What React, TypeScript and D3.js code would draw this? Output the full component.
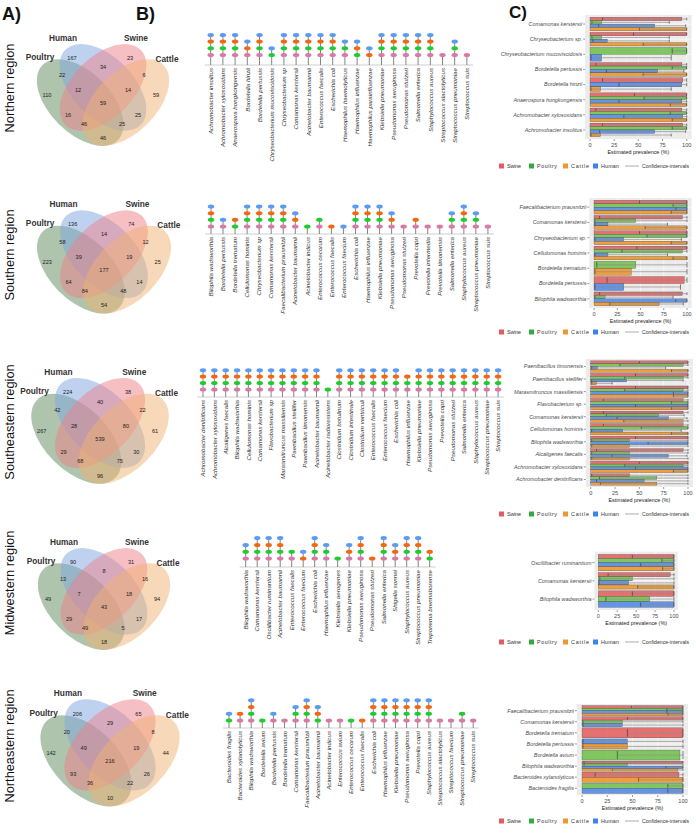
import React from "react";
import * as d3 from "d3";

const FONT = "'Liberation Sans', Arial, Helvetica, sans-serif";

// ---------------- Panel A data ----------------
const REGION_LABELS = ["Northern region", "Southern region", "Southeastern region", "Midwestern region", "Northeastern region"];
const SET_LABELS = ["Poultry", "Human", "Swine", "Cattle"];
const VENN_NORTH = [167, 23, 22, 34, 6, 110, 12, 14, 59, 59, 16, 25, 46, 25, 46];
const VENN_SOUTH = [136, 74, 58, 14, 12, 223, 39, 19, 25, 177, 64, 14, 84, 48, 54];
const VENN_SOUTHEAST = [224, 38, 42, 40, 22, 267, 28, 80, 61, 539, 29, 30, 68, 75, 96];
const VENN_MIDWEST = [90, 31, 13, 8, 16, 49, 7, 18, 94, 43, 29, 17, 49, 5, 18];
const VENN_NORTHEAST = [206, 65, 20, 29, 8, 142, 49, 19, 44, 216, 93, 26, 36, 22, 10];

// ---------------- Panel B data ----------------
// host codes: H = Human, C = Cattle, P = Poultry, S = Swine
const B_NORTH_SPECIES = ["Achromobacter insolitus", "Achromobacter xylosoxidans", "Anaerospora hongkongensis", "Bordetella hinzii", "Bordetella pertussis", "Chryseobacterium mucoviscidosis", "Chryseobacterium sp", "Comamonas kerstersii", "Acinetobacter baumannii", "Enterococcus faecalis", "Escherichia coli", "Haemophilus haemolyticus", "Haemophilus influenzae", "Haemophilus parainfluenzae", "Klebsiella pneumoniae", "Pseudomonas aeruginosa", "Pseudomonas stutzeri", "Salmonella enterica", "Staphylococcus aureus", "Streptococcus alactolyticus", "Streptococcus pneumoniae", "Streptococcus suis"];
const B_NORTH_HOSTS = ["HCPS", "HCPS", "HCPS", "HCS", "HCPS", "HP", "HCPS", "HCPS", "HCPS", "HCPS", "HCPS", "HPS", "HCP", "HC", "HCPS", "HCPS", "HCPS", "HCPS", "HCPS", "S", "HPS", "S"];

const B_SOUTH_SPECIES = ["Bilophila wadsworthia", "Bordetella pertussis", "Bordetella trematum", "Cellulomonas hominis", "Chryseobacterium sp", "Comamonas kerstersii", "Faecalibacterium prausnitzii", "Acinetobacter baumannii", "Acinetobacter indicus", "Enterococcus cecorum", "Enterococcus faecalis", "Enterococcus faecium", "Escherichia coli", "Haemophilus influenzae", "Klebsiella pneumoniae", "Pseudomonas aeruginosa", "Pseudomonas stutzeri", "Prevotella copri", "Prevotella intermedia", "Prevotella timonensis", "Salmonella enterica", "Staphylococcus aureus", "Streptococcus pneumoniae", "Streptococcus suis"];
const B_SOUTH_HOSTS = ["HCPS", "HS", "CP", "HCPS", "HCPS", "HCPS", "HCPS", "HCS", "P", "PS", "C", "H", "HCPS", "HCPS", "HCPS", "HCS", "S", "CS", "S", "S", "HPS", "HCPS", "HPS", "S"];

const B_SE_SPECIES = ["Achromobacter denitrificans", "Achromobacter xylosoxidans", "Alcaligenes faecalis", "Bilophila wadsworthia", "Cellulomonas hominis", "Comamonas kerstersii", "Flavobacterium sp", "Marasmitruncus massiliensis", "Paenibacillus stellifer", "Paenibacillus timonensis", "Acinetobacter baumannii", "Acinetobacter radioresistens", "Clostridium botulinum", "Clostridium intestinale", "Clostridium ventriculi", "Enterococcus faecalis", "Enterococcus faecium", "Escherichia coli", "Haemophilus influenzae", "Klebsiella pneumoniae", "Pseudomonas aeruginosa", "Prevotella copri", "Pseudomonas stutzeri", "Salmonella enterica", "Staphylococcus aureus", "Streptococcus pneumoniae", "Streptococcus suis"];
const B_SE_HOSTS = ["HCPS", "HCPS", "HCPS", "HCPS", "HCPS", "HCPS", "HCPS", "HCPS", "HCPS", "HCPS", "HCPS", "P", "HCPS", "HCPS", "HCPS", "HCPS", "HCPS", "HCPS", "CPS", "HCPS", "HCPS", "HCPS", "HCPS", "HCPS", "HCPS", "HCPS", "HCPS"];

const B_MW_SPECIES = ["Bilophila wadsworthia", "Comamonas kerstersii", "Oscillibacter ruminantium", "Acinetobacter baumannii", "Enterococcus faecalis", "Enterococcus faecium", "Escherichia coli", "Haemophilus influenzae", "Klebsiella aerogenes", "Klebsiella pneumoniae", "Pseudomonas aeruginosa", "Pseudomonas stutzeri", "Salmonella enterica", "Shigella sonnei", "Staphylococcus aureus", "Streptococcus pneumoniae", "Treponema brennaborense"];
const B_MW_HOSTS = ["HPS", "HCPS", "HCPS", "HCPS", "PS", "HC", "HCPS", "HPS", "P", "HCS", "HCPS", "C", "HCPS", "HCS", "HCPS", "HCPS", "CP"];

const B_NE_SPECIES = ["Bacteroides fragilis", "Bacteroides xylanolyticus", "Bilophila wadsworthia", "Bordetella avium", "Bordetella pertussis", "Bordetella trematum", "Comamonas kerstersii", "Faecalibacterium prausnitzii", "Acinetobacter baumannii", "Acinetobacter indicus", "Enterococcus avium", "Enterococcus cecorum", "Enterococcus faecalis", "Escherichia coli", "Haemophilus influenzae", "Klebsiella pneumoniae", "Pseudomonas aeruginosa", "Prevotella copri", "Staphylococcus aureus", "Streptococcus alactolyticus", "Streptococcus faecium", "Streptococcus pneumoniae", "Streptococcus suis"];
const B_NE_HOSTS = ["HP", "CS", "HCPS", "P", "HS", "S", "HPS", "HCPS", "HCP", "S", "S", "P", "C", "HCPS", "HCPS", "HCPS", "HCPS", "HCPS", "HCPS", "S", "S", "PS", "S"];

// ---------------- Panel C data ----------------
// each entry: [estimate, lower CI, upper CI] or null if absent
type T = [number, number, number] | null;
const C_NORTH_SPECIES = ["Comamonas kerstersii", "Chryseobacterium sp.", "Chryseobacterium mucoviscidosis", "Bordetella pertussis", "Bordetella hinzii", "Anaerospora hongkongensis", "Achromobacter xylosoxidans", "Achromobacter insolitus"];
const C_NORTH_SWINE: T[] = [[95, 13, 100], [100, 45, 100], null, [95, 6, 100], [96, 13, 100], [100, 46, 100], [95, 6, 100], [96, 13, 100]];
const C_NORTH_POULTRY: T[] = [[12, 2, 82], [12, 2, 82], [100, 85, 100], [100, 85, 100], null, [100, 56, 100], [100, 83, 100], [100, 85, 100]];
const C_NORTH_HUMAN: T[] = [[67, 9, 99], [18, 3, 82], [12, 1, 84], [70, 17, 97], [95, 30, 100], [95, 30, 100], [96, 35, 100], [67, 10, 99]];
const C_NORTH_CATTLE: T[] = [[100, 51, 100], [100, 55, 100], null, [100, 55, 100], [11, 1, 84], [100, 83, 100], [100, 85, 100], [11, 1, 84]];

const C_SOUTH_SPECIES = ["Faecalibacterium prausnitzii", "Comamonas kerstersii", "Chryseobacterium sp.", "Cellulomonas hominis", "Bordetella trematum", "Bordetella pertussis", "Bilophila wadsworthia"];
const C_SOUTH_SWINE: T[] = [[100, 49, 100], [95, 6, 100], [100, 49, 100], [100, 46, 100], null, [97, 14, 100], [95, 6, 100]];
const C_SOUTH_POULTRY: T[] = [[100, 85, 100], [45, 1, 100], [100, 57, 100], [95, 30, 100], [45, 3, 100], null, [12, 1, 85]];
const C_SOUTH_HUMAN: T[] = [[100, 88, 100], [15, 1, 79], [32, 1, 94], [15, 1, 79], null, [32, 1, 93], [100, 88, 100]];
const C_SOUTH_CATTLE: T[] = [[100, 83, 100], [100, 55, 100], [100, 83, 100], [100, 85, 100], [40, 1, 100], null, [70, 17, 96]];

const C_SE_SPECIES = ["Paenibacillus timonensis", "Paenibacillus stellifer", "Marasmitruncus massiliensis", "Flavobacterium sp.", "Comamonas kerstersii", "Cellulomonas hominis", "Bilophila wadsworthia", "Alcaligenes faecalis", "Achromobacter xylosoxidans", "Achromobacter denitrificans"];
const C_SE_SWINE: T[] = [[100, 50, 100], [100, 46, 100], [100, 46, 100], [95, 13, 100], [95, 13, 100], [95, 13, 100], [100, 46, 100], [95, 6, 100], [100, 50, 100], [40, 1, 100]];
const C_SE_POULTRY: T[] = [[95, 30, 100], [95, 35, 100], [95, 35, 100], [100, 83, 100], [70, 16, 96], [100, 52, 100], [40, 1, 100], [40, 1, 100], [95, 35, 100], [68, 9, 100]];
const C_SE_HUMAN: T[] = [[7, 1, 77], [37, 1, 95], [100, 85, 100], [100, 46, 100], [80, 27, 99], [33, 1, 93], [100, 59, 100], [80, 22, 99], [100, 46, 100], [55, 6, 100]];
const C_SE_CATTLE: T[] = [[100, 83, 100], [6, 1, 22], [100, 85, 100], [100, 83, 100], [95, 34, 100], [100, 83, 100], [40, 1, 100], [40, 1, 100], [100, 85, 100], [68, 10, 100]];

const C_MW_SPECIES = ["Oscillibacter ruminantium", "Comamonas kerstersii", "Bilophila wadsworthia"];
const C_MW_SWINE: T[] = [[100, 45, 100], [95, 13, 100], [100, 45, 100]];
const C_MW_POULTRY: T[] = [[100, 84, 100], [45, 2, 100], [68, 10, 100]];
const C_MW_HUMAN: T[] = [[100, 56, 100], [40, 1, 100], [100, 56, 100]];
const C_MW_CATTLE: T[] = [[100, 85, 100], [100, 52, 100], null];

const C_NE_SPECIES = ["Faecalibacterium prausnitzii", "Comamonas kerstersii", "Bordetella trematum", "Bordetella pertussis", "Bordetella avium", "Bilophila wadsworthia", "Bacteroides xylanolyticus", "Bacteroides fragilis"];
const C_NE_SWINE: T[] = [[100, 49, 100], [100, 45, 100], [100, 45, 100], null, null, [100, 2, 100], [96, 13, 100], null];
const C_NE_POULTRY: T[] = [[100, 84, 100], [40, 1, 100], null, null, [97, 35, 100], [45, 2, 100], null, [100, 85, 100]];
const C_NE_HUMAN: T[] = [[100, 84, 100], [40, 1, 100], null, [45, 1, 100], null, [100, 83, 100], null, [100, 85, 100]];
const C_NE_CATTLE: T[] = [[100, 85, 100], null, null, [45, 1, 100], null, [95, 30, 100], [100, 56, 100], null];

const TICKS = [0, 25, 50, 75, 100];
const LEGEND_LABELS = ["Swine", "Poultry", "Cattle", "Human"];

// ---------------- styling / layout ----------------
const VENN_FILL = ["#5f8a5c", "#7ea6e0", "#ee7f8a", "#efb271"];
const DOT = { H: "#5b9cf2", C: "#f2670f", P: "#1fcc2e", S: "#d77aa6" } as Record<string, string>;
const BAR = { Swine: "#e35b5b", Poultry: "#6cc048", Human: "#4a86e8", Cattle: "#f0901e" } as Record<string, string>;
const LEG = { Swine: "#e65a64", Poultry: "#33aa46", Cattle: "#f09632", Human: "#3c82f0" } as Record<string, string>;

const VENN_POS: [number, number][] = [[-31, -40], [27, -40], [-41, -23], [0, -31], [41, -23], [-56, -3], [-25, -8], [25, -8], [53, -3], [0, 5], [-35, 17], [35, 17], [-19, 26], [19, 26], [0, 40]];
const SET_POS: [number, number][] = [[-63, -41], [-40, -60], [33, -60], [64, -39]];

const VENN_LAYOUT = [
  { cx: 103, cy: 98, s: 152, counts: VENN_NORTH },
  { cx: 104, cy: 265, s: 154, counts: VENN_SOUTH },
  { cx: 100, cy: 434, s: 158, counts: VENN_SOUTHEAST },
  { cx: 104, cy: 602, s: 152, counts: VENN_MIDWEST },
  { cx: 110, cy: 756, s: 160, counts: VENN_NORTHEAST },
];
const REGION_LABEL_Y = [88, 255, 422, 583, 746];

const B_ROWS = [
  { species: B_NORTH_SPECIES, hosts: B_NORTH_HOSTS, x0: 210.7, dx: 12.2, base: 65, gap: 10, step: 6.7 },
  { species: B_SOUTH_SPECIES, hosts: B_SOUTH_HOSTS, x0: 211, dx: 12.04, base: 234, gap: 7.6, step: 6.6 },
  { species: B_SE_SPECIES, hosts: B_SE_HOSTS, x0: 203, dx: 11.35, base: 397, gap: 7.6, step: 6.4 },
  { species: B_MW_SPECIES, hosts: B_MW_HOSTS, x0: 245.7, dx: 11.5, base: 567, gap: 8.5, step: 6.8 },
  { species: B_NE_SPECIES, hosts: B_NE_HOSTS, x0: 229, dx: 11.1, base: 728, gap: 7.6, step: 6.7 },
];

const C_ROWS = [
  { species: C_NORTH_SPECIES, data: [C_NORTH_SWINE, C_NORTH_POULTRY, C_NORTH_HUMAN, C_NORTH_CATTLE], x0: 590, x100: 686.7, top: 15, bottom: 139, legendY: 166 },
  { species: C_SOUTH_SPECIES, data: [C_SOUTH_SWINE, C_SOUTH_POULTRY, C_SOUTH_HUMAN, C_SOUTH_CATTLE], x0: 594, x100: 687, top: 198, bottom: 308, legendY: 332 },
  { species: C_SE_SPECIES, data: [C_SE_SWINE, C_SE_POULTRY, C_SE_HUMAN, C_SE_CATTLE], x0: 590.7, x100: 688, top: 359, bottom: 487, legendY: 514 },
  { species: C_MW_SPECIES, data: [C_MW_SWINE, C_MW_POULTRY, C_MW_HUMAN, C_MW_CATTLE], x0: 598.3, x100: 674, top: 551.7, bottom: 610, legendY: 642 },
  { species: C_NE_SPECIES, data: [C_NE_SWINE, C_NE_POULTRY, C_NE_HUMAN, C_NE_CATTLE], x0: 582, x100: 683, top: 704, bottom: 795, legendY: 821 },
];
const C_CATS = ["Swine", "Poultry", "Human", "Cattle"];

function Venn({ cx, cy, s, counts }: { cx: number; cy: number; s: number; counts: number[] }) {
  const k = s / 152;
  const a = 0.35 * s, b = 0.2 * s;
  const ells = [
    { x: cx - 0.15 * s, y: cy + 0.03 * s, r: 45 },
    { x: cx, y: cy - 0.07 * s, r: 45 },
    { x: cx, y: cy - 0.07 * s, r: -45 },
    { x: cx + 0.15 * s, y: cy + 0.03 * s, r: -45 },
  ];
  return (
    <g>
      {ells.map((e, i) => (
        <ellipse key={i} cx={e.x} cy={e.y} rx={a} ry={b} transform={`rotate(${e.r} ${e.x} ${e.y})`} fill={VENN_FILL[i]} fillOpacity={0.5} stroke="none" />
      ))}
      {counts.map((c, i) => (
        <text key={i} x={cx + VENN_POS[i][0] * k} y={cy + VENN_POS[i][1] * k} dy="0.35em" textAnchor="middle" fontSize={5.6} fill="#222" fontFamily={FONT}>{c}</text>
      ))}
      {SET_LABELS.map((l, i) => (
        <text key={l} x={cx + SET_POS[i][0] * k} y={cy + SET_POS[i][1] * k} dy="0.35em" textAnchor="middle" fontSize={8.3} fontWeight="bold" fill="#333" fontFamily={FONT}>{l}</text>
      ))}
    </g>
  );
}

const STACK_ORDER = ["S", "P", "C", "H"];

function DotRow({ species, hosts, x0, dx, base, gap, step }: any) {
  const x = d3.scaleLinear().domain([0, species.length - 1]).range([x0, x0 + dx * (species.length - 1)]);
  const bottomDot = base - gap;
  return (
    <g>
      <line x1={x0 - 6} x2={x(species.length - 1) + 6} y1={base} y2={base} stroke="#cfcfcf" strokeWidth={1} />
      {species.map((sp: string, i: number) => {
        const present = STACK_ORDER.filter((c) => hosts[i].includes(c));
        const topY = bottomDot - (present.length - 1) * step;
        return (
          <g key={i}>
            <line x1={x(i)} x2={x(i)} y1={base} y2={topY} stroke="#777" strokeWidth={0.9} />
            {present.map((c, j) => (
              <ellipse key={c} cx={x(i)} cy={bottomDot - j * step} rx={3.2} ry={2} fill={DOT[c]} />
            ))}
            <text transform={`translate(${x(i) + 2.2},${base + 3}) rotate(-90)`} textAnchor="end" fontSize={6.2} fontStyle="italic" fill="#333" fontFamily={FONT}>{sp}</text>
          </g>
        );
      })}
    </g>
  );
}

function PrevPanel({ species, data, x0, x100, top, bottom, legendY }: any) {
  const x = d3.scaleLinear().domain([0, 100]).range([x0, x100]);
  const left = x(-5), right = x(105);
  const n = species.length;
  const step = (bottom - top) / (n - 1 + 1.2);
  const yc = (i: number) => top + (0.6 + i) * step;
  const minor = [12.5, 37.5, 62.5, 87.5];
  const legX = [499, 529, 563, 593];
  const legW = [14, 20, 18, 18];
  return (
    <g fontFamily={FONT}>
      <rect x={left} y={top} width={right - left} height={bottom - top} fill="#ebebeb" />
      {minor.map((t) => <line key={t} x1={x(t)} x2={x(t)} y1={top} y2={bottom} stroke="#fff" strokeWidth={0.3} />)}
      {TICKS.map((t) => <line key={t} x1={x(t)} x2={x(t)} y1={top} y2={bottom} stroke="#fff" strokeWidth={0.6} />)}
      {species.map((_: string, i: number) => <line key={i} x1={left} x2={right} y1={yc(i)} y2={yc(i)} stroke="#fff" strokeWidth={0.6} />)}
      {species.map((sp: string, i: number) => {
        const present = C_CATS.map((c, ci) => ({ c, v: data[ci][i] as T })).filter((d) => d.v);
        const bh = (0.9 * step) / present.length;
        const y0 = yc(i) - 0.45 * step;
        return (
          <g key={sp}>
            {present.map((d, j) => {
              const [v, lo, hi] = d.v as [number, number, number];
              const y = y0 + j * bh;
              const ym = y + bh / 2;
              return (
                <g key={d.c}>
                  <rect x={x(0)} y={y} width={x(v) - x(0)} height={bh} fill={BAR[d.c]} fillOpacity={0.85} stroke="#3a3a3a" strokeWidth={0.3} />
                  <line x1={x(lo)} x2={x(hi)} y1={ym} y2={ym} stroke="#8a8a8a" strokeOpacity={0.75} strokeWidth={0.9} />
                  <line x1={x(lo)} x2={x(lo)} y1={ym - bh * 0.4} y2={ym + bh * 0.4} stroke="#333" strokeWidth={0.6} />
                  <line x1={x(hi)} x2={x(hi)} y1={ym - bh * 0.4} y2={ym + bh * 0.4} stroke="#333" strokeWidth={0.6} />
                </g>
              );
            })}
            <line x1={left - 2} x2={left} y1={yc(i)} y2={yc(i)} stroke="#333" strokeWidth={0.5} />
            <text x={left - 3} y={yc(i)} dy="0.35em" textAnchor="end" fontSize={5.4} fontStyle="italic" fill="#4d4d4d">{sp}</text>
          </g>
        );
      })}
      {TICKS.map((t) => (
        <g key={t}>
          <line x1={x(t)} x2={x(t)} y1={bottom} y2={bottom + 2} stroke="#333" strokeWidth={0.5} />
          <text x={x(t)} y={bottom + 7.5} textAnchor="middle" fontSize={5.6} fill="#4d4d4d">{t}</text>
        </g>
      ))}
      <text x={(x(0) + x(100)) / 2} y={bottom + 15} textAnchor="middle" fontSize={5.4} fill="#222">Estimated prevalence (%)</text>
      {LEGEND_LABELS.map((l, i) => (
        <g key={l}>
          <rect x={legX[i]} y={legendY - 2.5} width={5} height={5} fill={LEG[l]} />
          <text x={legX[i] + 8} y={legendY} dy="0.35em" fontSize={5.4} fill="#333" textLength={legW[i]} lengthAdjust="spacing">{l}</text>
        </g>
      ))}
      <line x1={625} x2={639} y1={legendY} y2={legendY} stroke="#aaa" strokeWidth={1} />
      <text x={642} y={legendY} dy="0.35em" fontSize={5.2} fill="#333" textLength={47} lengthAdjust="spacingAndGlyphs">Confidence-intervals</text>
    </g>
  );
}

export default function App() {
  return (
    <svg width={696} height={833} viewBox="0 0 696 833" style={{ position: "absolute", left: 0, top: 0, background: "#fff" }} fontFamily={FONT}>
      <rect width={696} height={833} fill="#fff" />
      <text x={2} y={20} fontSize={18} fontWeight="bold" fill="#111">A)</text>
      <text x={136} y={20} fontSize={18} fontWeight="bold" fill="#111">B)</text>
      <text x={509} y={18} fontSize={17} fontWeight="bold" fill="#111">C)</text>
      {REGION_LABELS.map((r, i) => (
        <text key={r} transform={`translate(14,${REGION_LABEL_Y[i]}) rotate(-90)`} textAnchor="middle" fontSize={12.8} fill="#111">{r}</text>
      ))}
      {VENN_LAYOUT.map((v, i) => <Venn key={i} {...v} />)}
      {B_ROWS.map((r, i) => <DotRow key={i} {...r} />)}
      {C_ROWS.map((r, i) => <PrevPanel key={i} {...r} />)}
    </svg>
  );
}
